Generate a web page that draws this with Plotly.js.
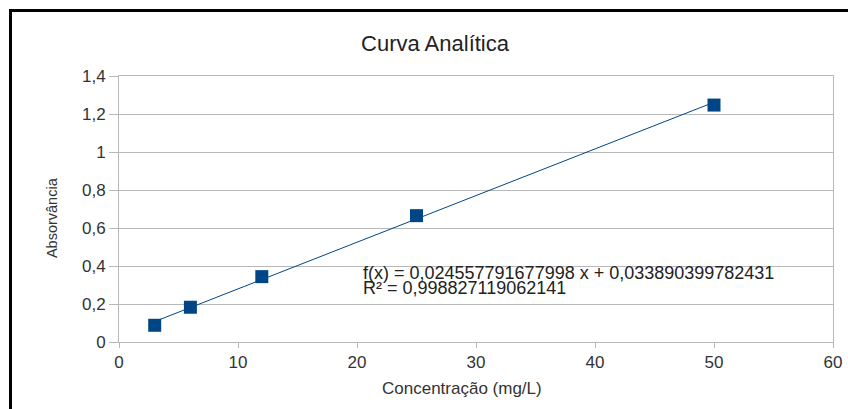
<!DOCTYPE html>
<html>
<head>
<meta charset="utf-8">
<script src="https://cdn.plot.ly/plotly-3.0.1.min.js"></script>
<style>
  html, body { margin: 0; padding: 0; background: #fff; overflow: hidden; }
  #wrap { position: relative; width: 848px; height: 409px; }
  #chart { width: 848px; height: 409px; }
  #frame { position: absolute; left: 9px; top: 9px; width: 900px; height: 500px;
           border-top: 3px solid #000; border-left: 3px solid #000; pointer-events: none; }
</style>
</head>
<body>
<div id="wrap">
  <div id="chart"></div>
  <div id="frame"></div>
</div>
<script>
// Data
const concentracao = [3, 6, 12, 25, 50];
const absorvancia = [0.088, 0.183, 0.344, 0.665, 1.247];

// Regression reported on the chart
const slope = 0.024557791677998;
const intercept = 0.033890399782431;
const eqText = "f(x) = 0,024557791677998 x + 0,033890399782431";
const r2Text = "R² = 0,998827119062141";

const trendX = [3, 50];
const trendY = trendX.map(x => slope * x + intercept);

const yTickVals = [0, 0.2, 0.4, 0.6, 0.8, 1, 1.2, 1.4];
const yTickText = ["0", "0,2", "0,4", "0,6", "0,8", "1", "1,2", "1,4"];
const xTickVals = [0, 10, 20, 30, 40, 50, 60];
const xTickText = ["0", "10", "20", "30", "40", "50", "60"];

const xTitle = "Concentração (mg/L)";
const yTitle = "Absorvância";

const blue = "#004586";
const grid = "#b8b8b8";
const font = "Liberation Sans, Arial, sans-serif";

const traces = [
  {
    x: trendX, y: trendY, type: "scatter", mode: "lines",
    line: { color: blue, width: 1 }, hoverinfo: "skip", showlegend: false
  },
  {
    x: concentracao, y: absorvancia, type: "scatter", mode: "markers",
    marker: { symbol: "square", size: 13, color: blue, line: { width: 0 } },
    showlegend: false
  }
];

const layout = {
  width: 848, height: 409,
  margin: { l: 119, r: 15, t: 76, b: 67 },
  paper_bgcolor: "#fff", plot_bgcolor: "#fff",
  font: { family: font, color: "#333", size: 17 },
  title: {
    text: "Curva Analítica",
    font: { family: font, size: 22, color: "#222" },
    xref: "container", yref: "container",
    x: 0.513, y: 0.893, xanchor: "center", yanchor: "middle"
  },
  xaxis: {
    range: [0, 60], tickvals: xTickVals, ticktext: xTickText,
    showgrid: false, zeroline: false,
    showline: true, mirror: true, linecolor: grid, linewidth: 1,
    ticks: "outside", ticklen: 5, tickcolor: grid,
    tickfont: { size: 17, color: "#333" }
  },
  yaxis: {
    range: [0, 1.4], tickvals: yTickVals, ticktext: yTickText,
    showgrid: true, gridcolor: grid, gridwidth: 1, zeroline: false,
    showline: true, mirror: true, linecolor: grid, linewidth: 1,
    ticks: "outside", ticklen: 9, tickcolor: grid,
    tickfont: { size: 17, color: "#333" }
  },
  annotations: [
    {
      x: 0.480, y: -0.173, xref: "paper", yref: "paper", xanchor: "center", yanchor: "middle",
      text: xTitle, showarrow: false, font: { size: 17, color: "#333" }
    },
    {
      x: -0.0938, y: 0.466, xref: "paper", yref: "paper", xanchor: "center", yanchor: "middle",
      text: yTitle, textangle: -90, showarrow: false, font: { size: 14.5, color: "#333" }
    },
    {
      x: 20.3, y: 0.362, xref: "x", yref: "y", xanchor: "left", yanchor: "middle",
      text: eqText, showarrow: false, font: { size: 18, color: "#222" }
    },
    {
      x: 20.3, y: 0.285, xref: "x", yref: "y", xanchor: "left", yanchor: "middle",
      text: r2Text, showarrow: false, font: { size: 18, color: "#222" }
    }
  ]
};

Plotly.newPlot("chart", traces, layout, { displayModeBar: false, staticPlot: true });
</script>
</body>
</html>
